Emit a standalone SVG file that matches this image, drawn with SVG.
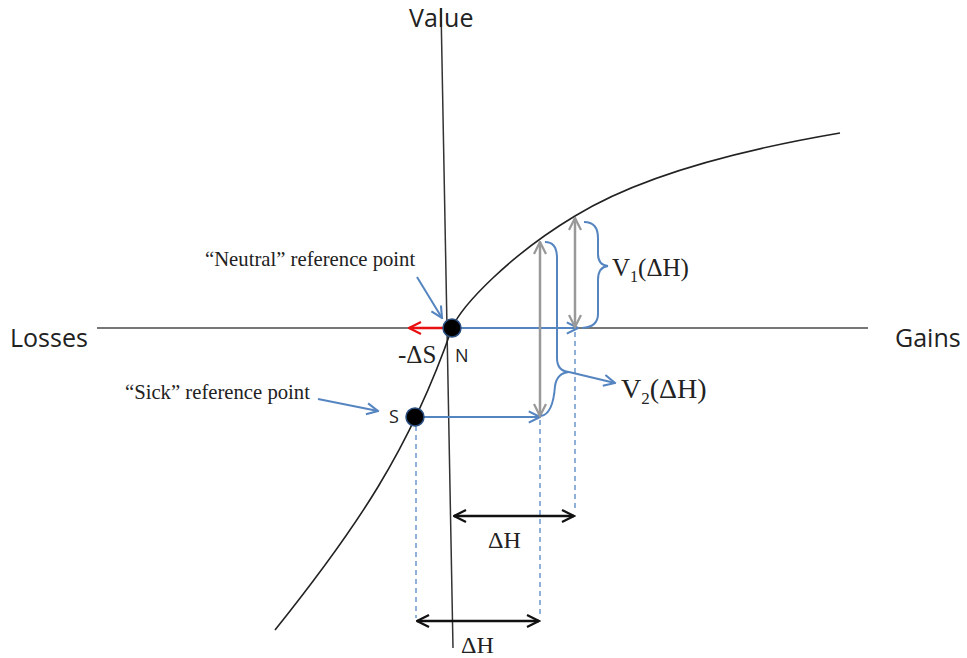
<svg xmlns="http://www.w3.org/2000/svg" width="967" height="658" viewBox="0 0 967 658">
<style>
.serif{font-family:"Liberation Serif","Times New Roman",serif;fill:#222}
.sans{font-family:"Open Sans","Liberation Sans",sans-serif;fill:#222}
.gray{stroke:#999;stroke-width:2.5;fill:none}
.blue{stroke:#5585c0;stroke-width:2;fill:none}
.dash{stroke:#8fb0d8;stroke-width:2;stroke-dasharray:5,4;fill:none}
.blk{stroke:#111;stroke-width:2.5;fill:none}
</style>
<defs>
<marker id="mg" viewBox="0 0 10 10" refX="9" refY="5" markerWidth="6" markerHeight="6" orient="auto-start-reverse" markerUnits="strokeWidth"><path d="M1,1 L9,5 L1,9" fill="none" stroke="#999" stroke-width="1.5"/></marker>
<marker id="mb" viewBox="0 0 10 10" refX="9" refY="5" markerWidth="7" markerHeight="7" orient="auto-start-reverse" markerUnits="strokeWidth"><path d="M1,1 L9,5 L1,9" fill="none" stroke="#5585c0" stroke-width="1.5"/></marker>
<marker id="mk" viewBox="0 0 10 10" refX="9" refY="5" markerWidth="6" markerHeight="6" orient="auto-start-reverse" markerUnits="strokeWidth"><path d="M1,1 L9,5 L1,9" fill="none" stroke="#111" stroke-width="1.5"/></marker>
<marker id="mr" viewBox="0 0 10 10" refX="9" refY="5" markerWidth="6" markerHeight="6" orient="auto-start-reverse" markerUnits="strokeWidth"><path d="M1,1 L9,5 L1,9" fill="none" stroke="#e81010" stroke-width="1.5"/></marker>
</defs>
<rect width="967" height="658" fill="#fff"/>
<g id="axes">
<line x1="97" y1="328" x2="868" y2="328" stroke="#777" stroke-width="2"/>
<line x1="441" y1="8" x2="453" y2="648" stroke="#333" stroke-width="1.5"/>
<text class="sans" x="409" y="27" font-size="25">Value</text>
<text class="sans" x="10" y="347" font-size="25">Losses</text>
<text class="sans" x="895" y="347" font-size="25">Gains</text>
</g>
<g id="curve">
<path d="M275,630 C355,530 410,450 452,328 C462,305 510,255 575,216 C640,176 740,150 840,133" fill="none" stroke="#222" stroke-width="1.6"/>
</g>
<g id="connectors">
<line class="dash" x1="416" y1="426" x2="416" y2="618"/>
<line class="dash" x1="540" y1="420" x2="540" y2="618"/>
<line class="dash" x1="575" y1="332" x2="575" y2="510"/>
<line x1="445" y1="328" x2="409" y2="328" stroke="#e81010" stroke-width="2.5" marker-end="url(#mr)"/>
<line class="blue" x1="460" y1="328" x2="578" y2="328" marker-end="url(#mb)"/>
<line class="blue" x1="423" y1="417" x2="540" y2="417" marker-end="url(#mb)"/>
<line class="gray" x1="540" y1="242" x2="540" y2="416" marker-start="url(#mg)" marker-end="url(#mg)"/>
<line class="gray" x1="575" y1="218" x2="575" y2="327" marker-start="url(#mg)" marker-end="url(#mg)"/>
<line class="blk" x1="454" y1="516" x2="574" y2="516" marker-start="url(#mk)" marker-end="url(#mk)"/>
<line class="blk" x1="417" y1="621" x2="539" y2="621" marker-start="url(#mk)" marker-end="url(#mk)"/>
<path class="blue" stroke-width="1.5" d="M584,222 Q598,222 598,238 L598,254 Q598,265 608,266 Q598,267 598,280 L598,314 Q598,327 582,328"/>
<path class="blue" stroke-width="1.5" d="M545,242 Q557,242 557,258 L557,358 Q557,371 569,372 Q557,373 555,386 Q553,414 541,416"/>
<line class="blue" x1="569" y1="372" x2="615" y2="383" marker-end="url(#mb)"/>
<line class="blue" x1="417" y1="277" x2="442" y2="318" stroke-width="1.5" marker-end="url(#mb)"/>
<line class="blue" x1="318" y1="399" x2="378" y2="411" stroke-width="1.5" marker-end="url(#mb)"/>
</g>
<g id="N">
<circle cx="452" cy="328" r="9" fill="#000" stroke="#2a4f80" stroke-width="1.5"/>
<text class="sans" x="455" y="362" font-size="18">N</text>
<text class="serif" x="398" y="363" font-size="25">-ΔS</text>
</g>
<g id="S">
<circle cx="415" cy="417" r="9" fill="#000" stroke="#2a4f80" stroke-width="1.5"/>
<text class="sans" x="389" y="423" font-size="18">S</text>
</g>
<g id="labels">
<text class="serif" x="205" y="266" font-size="20.7">“Neutral” reference point</text>
<text class="serif" x="125" y="399" font-size="20.7">“Sick” reference point</text>
<text class="serif" x="612" y="276" font-size="25">V<tspan font-size="16" dy="6">1</tspan><tspan dy="-6">(ΔH)</tspan></text>
<text class="serif" x="621" y="398" font-size="28">V<tspan font-size="17" dy="6">2</tspan><tspan dy="-6">(ΔH)</tspan></text>
<text class="serif" x="488" y="548" font-size="24">ΔH</text>
<text class="serif" x="461" y="653" font-size="24">ΔH</text>
</g>
</svg>
